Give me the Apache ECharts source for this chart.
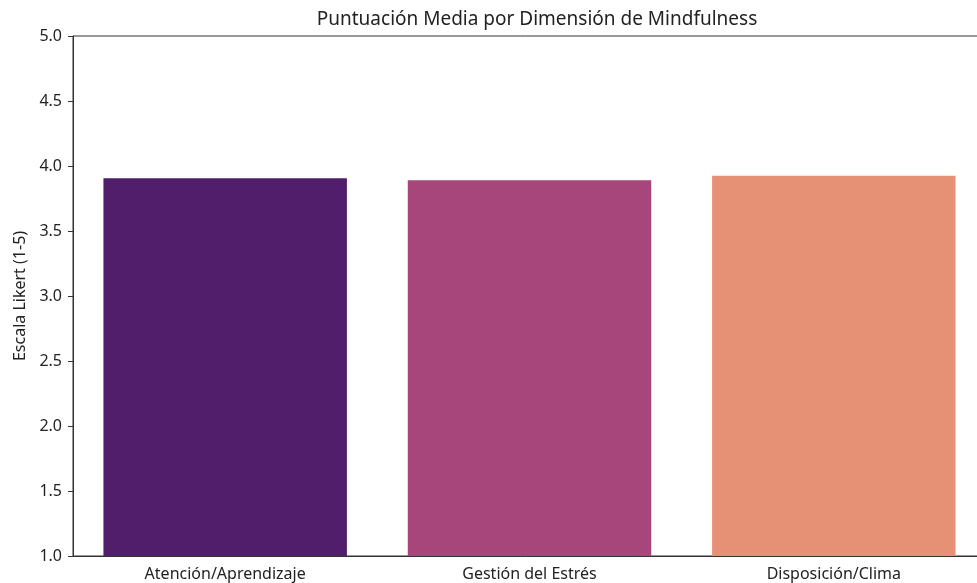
<!DOCTYPE html>
<html>
<head>
<meta charset="utf-8">
<script src="https://cdn.jsdelivr.net/npm/echarts@6/dist/echarts.min.js"></script>
<style>html,body{margin:0;padding:0;background:#fff;}#c{width:977px;height:583px;}</style>
</head>
<body>
<div id="c"></div>
<script>
const categories = ["Atención/Aprendizaje", "Gestión del Estrés", "Disposición/Clima"];
const values = [3.905, 3.89, 3.925];
const colors = ["#501e6b", "#a6467a", "#e69075"];
const yTicks = { min: 1.0, max: 5.0, interval: 0.5 };

const chart = echarts.init(document.getElementById('c'), null, { renderer: 'canvas' });
const font = "Noto Sans";
chart.setOption({
  animation: false,
  backgroundColor: '#fff',
  title: {
    text: 'Puntuación Media por Dimensión de Mindfulness',
    left: 532, top: 5, textAlign: 'center',
    textStyle: { fontFamily: font, fontSize: 19, fontWeight: 'normal', color: '#222' }
  },
  grid: { left: 73, top: 36, width: 913, height: 520, containLabel: false, outerBoundsMode: 'none',
          show: true, borderColor: '#333', borderWidth: 1, backgroundColor: 'transparent' },
  xAxis: {
    type: 'category', data: categories,
    axisLine: { lineStyle: { color: '#333', width: 1 } },
    axisTick: { alignWithLabel: true, length: 5, lineStyle: { color: '#333' } },
    axisLabel: { fontFamily: font, fontSize: 16, color: '#222', margin: 10 }
  },
  yAxis: {
    type: 'value', min: yTicks.min, max: yTicks.max, interval: yTicks.interval,
    name: 'Escala Likert (1-5)', nameLocation: 'middle', nameGap: 45,
    nameTextStyle: { fontFamily: font, fontSize: 16, color: '#222' },
    axisLine: { show: true, lineStyle: { color: '#333', width: 1 } },
    axisTick: { show: true, length: 5, lineStyle: { color: '#333' } },
    splitLine: { show: false },
    axisLabel: { fontFamily: font, fontSize: 16, color: '#222', margin: 11, formatter: v => v.toFixed(1) }
  },
  series: [{
    type: 'bar', barCategoryGap: '20%',
    data: values.map((v, i) => ({ value: v, itemStyle: { color: colors[i] } }))
  }]
});
</script>
</body>
</html>
